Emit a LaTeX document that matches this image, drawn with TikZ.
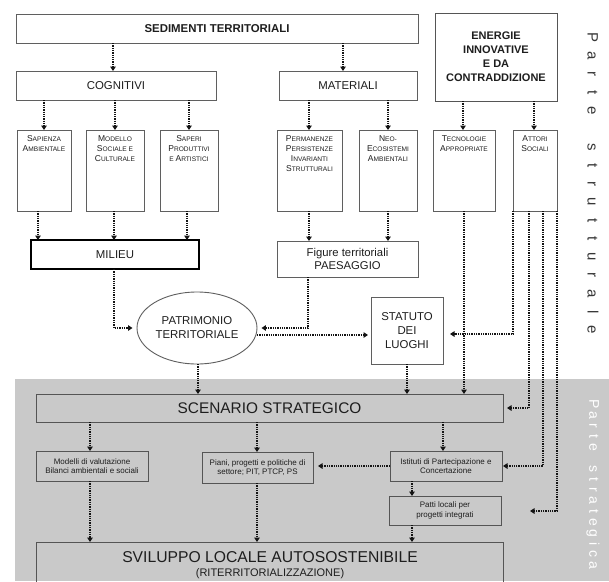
\documentclass[tikz,border=0pt]{standalone}
\usepackage{fontspec}
\setmainfont{Liberation Sans}
\usetikzlibrary{arrows.meta,shapes.geometric}
\definecolor{bggray}{RGB}{201,201,201}
\definecolor{lnc}{RGB}{20,20,20}
\definecolor{bdc}{RGB}{95,95,95}
\definecolor{gbd}{RGB}{85,85,85}
\definecolor{txc}{RGB}{30,30,30}
\definecolor{vtc}{RGB}{55,55,55}
\newcommand\SC[2]{{\fontsize{8.5}{10}\selectfont #1}{\fontsize{6.6}{10}\selectfont #2}}
\newcommand\SM[1]{{\fontsize{6.6}{10}\selectfont #1}}
\newcommand\la[1]{\makebox[18.3pt][c]{#1}}
\newcommand\lc[1]{\makebox[10.7pt][c]{#1}}
\begin{document}
\begin{tikzpicture}[x=1pt,y=-1pt,
  box/.style={draw=bdc, line width=0.8pt, rectangle, inner sep=0pt, outer sep=0pt, text=txc, align=center, anchor=north west},
  subbox/.style={box, minimum height=81pt},
  gbox/.style={box, draw=gbd, font=\fontsize{8}{9.5}\selectfont},
  conn/.style={draw=lnc, line width=1.8pt, dash pattern=on 1.3pt off 1pt, -{Triangle[length=4.5pt,width=5.5pt]}},
  lab/.style={anchor=north, yshift=-5pt, inner sep=0pt, align=center, text=txc, font=\fontsize{8.5}{10}\selectfont},
  big/.style={font=\fontsize{11.4}{14}\selectfont},
]
\useasboundingbox (0,0) rectangle (609,581);
\fill[white] (0,0) rectangle (609,581);
\fill[bggray] (15,379) rectangle (609,581);

% top row
\node[box, big, minimum width=402pt, minimum height=29pt] (sed) at (16,14) {\bfseries SEDIMENTI TERRITORIALI};
\node[box, line width=1pt, draw=gbd, minimum width=122pt, minimum height=88pt, font=\fontsize{11}{14}\selectfont\bfseries] (ene) at (435,13) {ENERGIE\\INNOVATIVE\\E DA\\CONTRADDIZIONE};
\node[box, big, minimum width=200pt, minimum height=29pt] (cog) at (16,71) {COGNITIVI};
\node[box, big, minimum width=138pt, minimum height=29pt] (mat) at (279,71) {MATERIALI};

% sub boxes
\node[subbox, minimum width=54pt, label={[lab]north:{\SC{S}{APIENZA}\\\SC{A}{MBIENTALE}}}] (sap) at (17,130) {};
\node[subbox, minimum width=58pt, label={[lab]north:{\SC{M}{ODELLO}\\\SC{S}{OCIALE E}\\\SC{C}{ULTURALE}}}] (mod) at (86,130) {};
\node[subbox, minimum width=58pt, label={[lab]north:{\SC{S}{APERI}\\\SC{P}{RODUTTIVI}\\\SM{E }\SC{A}{RTISTICI}}}] (spr) at (160,130) {};
\node[subbox, minimum width=65pt, label={[lab]north:{\SC{P}{ERMANENZE}\\\SC{P}{ERSISTENZE}\\\SC{I}{NVARIANTI}\\\SC{S}{TRUTTURALI}}}] (per) at (277,130) {};
\node[subbox, minimum width=58pt, label={[lab]north:{\SC{N}{EO-}\\\SC{E}{COSISTEMI}\\\SC{A}{MBIENTALI}}}] (neo) at (359,130) {};
\node[subbox, minimum width=62pt, label={[lab]north:{\SC{T}{ECNOLOGIE}\\\SC{A}{PPROPRIATE}}}] (tec) at (433,130) {};
\node[subbox, minimum width=44pt, label={[lab]north:{\SC{A}{TTORI}\\\SC{S}{OCIALI}}}] (att) at (513,130) {};

% middle
\node[box, big, draw=black, line width=1.3pt, minimum width=168pt, minimum height=29pt] (mil) at (31,240) {MILIEU};
\node[box, font=\fontsize{11.3}{13}\selectfont, minimum width=141pt, minimum height=36pt] (pae) at (277,241) {Figure territoriali\\PAESAGGIO};
\node[ellipse, draw=bdc, line width=0.9pt, minimum width=120pt, minimum height=72pt, inner sep=0pt, align=center, text=txc, big] (pat) at (197,328) {PATRIMONIO\\TERRITORIALE};
\node[box, big, minimum width=72pt, minimum height=67pt] (sta) at (371,297) {STATUTO\\DEI\\LUOGHI};
\coordinate (patS) at (198,364);
\coordinate (patE) at (257,335);

% strategic part
\node[box, draw=gbd, font=\fontsize{15.4}{16}\selectfont, minimum width=467pt, minimum height=28pt] (sce) at (36,394) {SCENARIO STRATEGICO};
\node[gbox, minimum width=112pt, minimum height=30pt] (mdl) at (36,451) {Modelli di valutazione\\Bilanci ambientali e sociali};
\node[gbox, minimum width=111pt, minimum height=31pt] (pia) at (202,452) {Piani, progetti e politiche di\\settore; PIT, PTCP, PS};
\node[gbox, minimum width=112pt, minimum height=30pt] (ist) at (390,451) {Istituti di Partecipazione e\\Concertazione};
\node[gbox, minimum width=112pt, minimum height=29pt] (pat2) at (389,496) {Patti locali per\\progetti integrati};
\node[box, draw=gbd, minimum width=467pt, minimum height=45pt] (svi) at (36,542) {};
\node[inner sep=0pt, text=txc, font=\fontsize{15.7}{16}\selectfont] (sviA) at (270,557) {SVILUPPO LOCALE AUTOSOSTENIBILE};
\node[inner sep=0pt, text=txc, font=\fontsize{11}{12}\selectfont] (sviB) at (270,574) {(RITERRITORIALIZZAZIONE)};
\coordinate (free) at (530,511);

% vertical labels
\node[rotate=-90, anchor=west, inner sep=0pt, text=vtc, font=\fontsize{15}{15}\selectfont] (vps) at (593,28)
 {\la{P}\la{a}\la{r}\la{t}\la{e}\la{}\la{s}\la{t}\la{r}\la{u}\la{t}\la{t}\la{u}\la{r}\la{a}\la{l}\la{e}};
\node[rotate=-90, anchor=west, inner sep=0pt, text=white, font=\fontsize{14}{14}\selectfont] (vst) at (593,399)
 {\lc{P}\lc{a}\lc{r}\lc{t}\lc{e}\lc{}\lc{s}\lc{t}\lc{r}\lc{a}\lc{t}\lc{e}\lc{g}\lc{i}\lc{c}\lc{a}};

% connectors top
\draw[conn] (sed.south -| 113,0) -- (cog.north -| 113,0);
\draw[conn] (sed.south -| 343,0) -- (mat.north -| 343,0);
\draw[conn] (cog.south -| 44,0) -- (sap.north -| 44,0);
\draw[conn] (cog.south -| 115,0) -- (mod.north -| 115,0);
\draw[conn] (cog.south -| 189,0) -- (spr.north -| 189,0);
\draw[conn] (mat.south -| 309,0) -- (per.north -| 309,0);
\draw[conn] (mat.south -| 388,0) -- (neo.north -| 388,0);
\draw[conn] (ene.south -| 463,0) -- (tec.north -| 463,0);
\draw[conn] (ene.south -| 534,0) -- (att.north -| 534,0);
% to milieu / paesaggio
\draw[conn] (sap.south -| 38,0) -- (mil.north -| 38,0);
\draw[conn] (mod.south -| 114,0) -- (mil.north -| 114,0);
\draw[conn] (spr.south -| 187,0) -- (mil.north -| 187,0);
\draw[conn] (per.south -| 309,0) -- (pae.north -| 309,0);
\draw[conn] (neo.south -| 388,0) -- (pae.north -| 388,0);
% patrimonio
\draw[conn, shorten >=4pt] (mil.south -| 114,0) |- (pat.west);
\draw[conn, shorten >=4pt] (pae.south -| 308,0) |- (pat.east);
\draw[conn, shorten >=3pt] (patE) -- (sta.west |- patE);
% attori / tecnologie
\draw[conn] (tec.south -| 464,0) -- (sce.north -| 464,0);
\draw[conn, shorten >=7pt] (att.south west) |- (sta.east |- 0,334);
\draw[conn, shorten >=4pt] (att.south -| 529,0) |- (sce.east);
\draw[conn, shorten >=1pt] (att.south -| 543,0) |- (ist.east);
\draw[conn] (att.south east) |- (free);
% to scenario
\draw[conn] (patS) -- (sce.north -| patS);
\draw[conn] (sta.south) -- (sce.north -| sta.south);
% strategic
\draw[conn] (sce.south -| 90,0) -- (mdl.north -| 90,0);
\draw[conn] (sce.south -| 257,0) -- (pia.north -| 257,0);
\draw[conn] (sce.south -| 443,0) -- (ist.north -| 443,0);
\draw[conn, shorten >=5pt] (ist.west) -- (pia.east |- ist.west);
\draw[conn] (ist.south -| 412,0) -- (pat2.north -| 412,0);
\draw[conn] (pat2.south -| 412,0) -- (svi.north -| 412,0);
\draw[conn] (mdl.south -| 90,0) -- (svi.north -| 90,0);
\draw[conn] (pia.south -| 257,0) -- (svi.north -| 257,0);
\end{tikzpicture}
\end{document}
